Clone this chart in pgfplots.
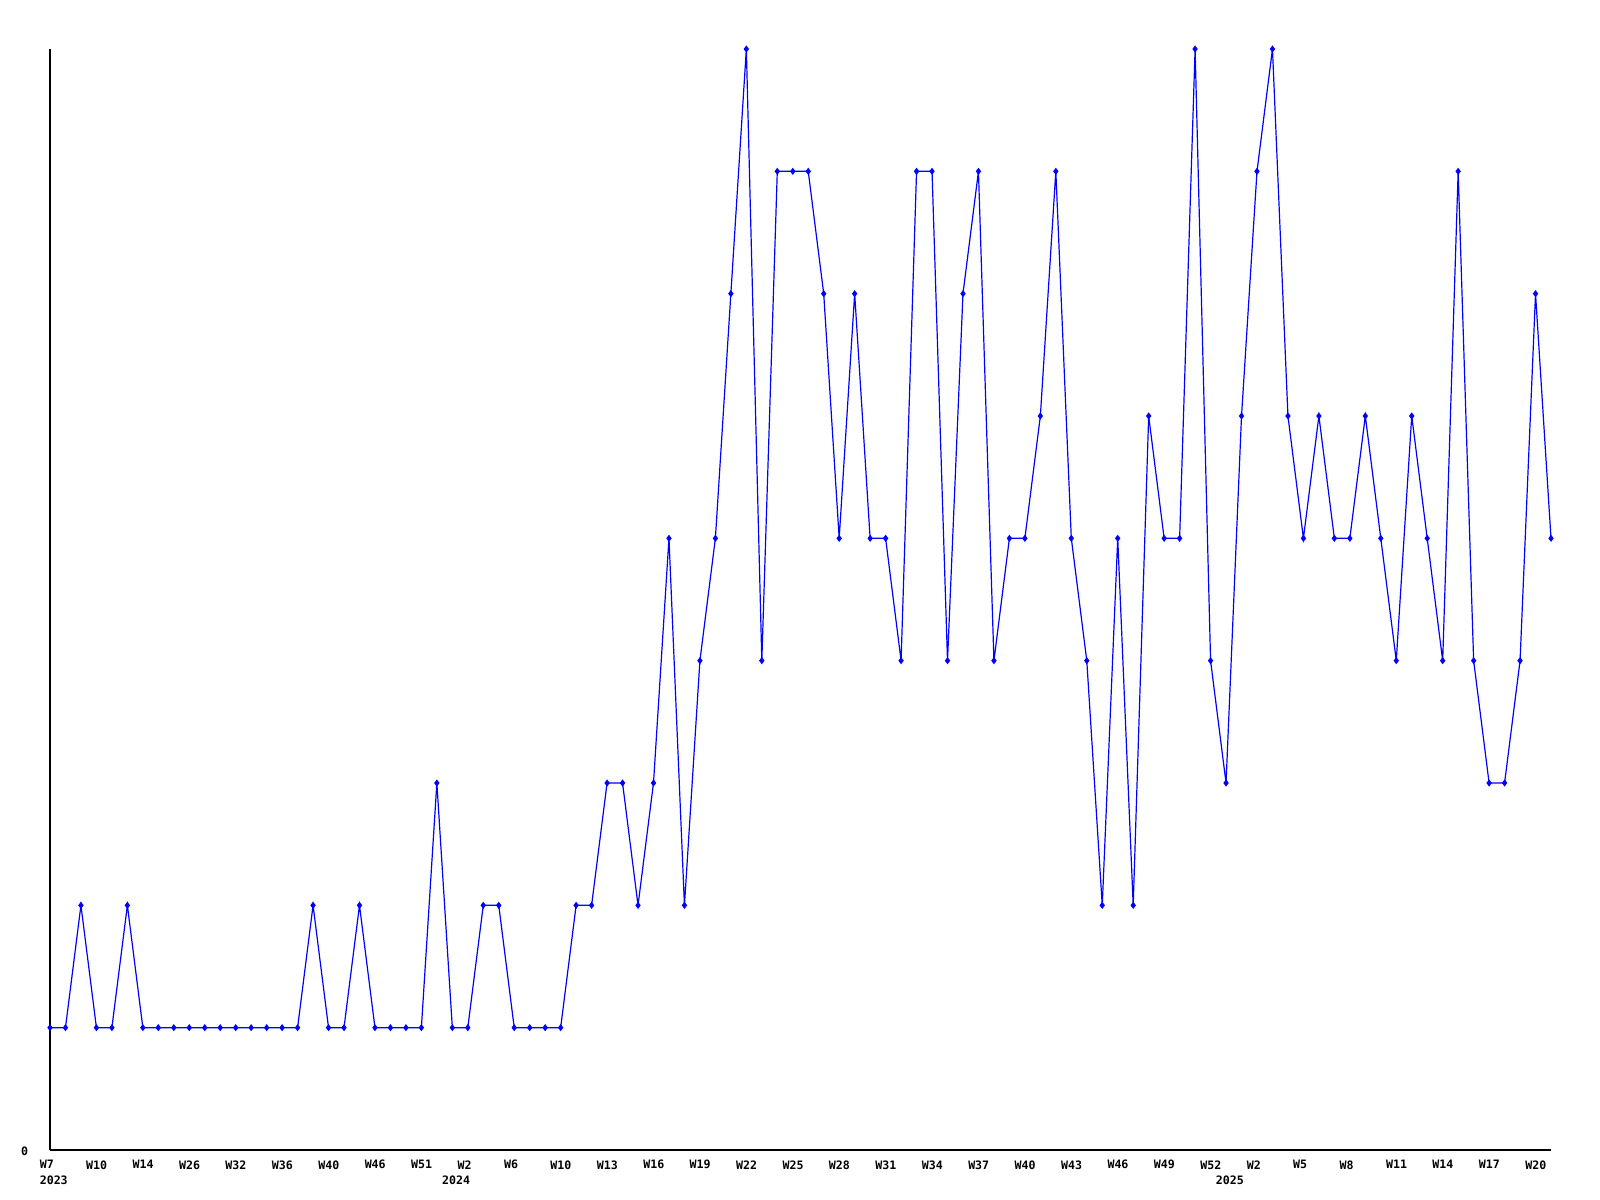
\documentclass[border=0pt]{standalone}
\usepackage{pgfplots}
\pgfplotsset{compat=1.18}
\usepackage{fontspec}
\newfontfamily\labfont{DejaVu Sans Mono}
\newcommand{\lf}{\labfont\bfseries\fontsize{2.9bp}{3.4bp}\selectfont}
\begin{document}
\begin{tikzpicture}
\useasboundingbox (-12.5bp,-12.5bp) rectangle (387.5bp,287.5bp);
\begin{axis}[at={(0,0)}, anchor=south west, scale only axis,
  width=375.25bp, height=275.25bp,
  xmin=0, xmax=97, ymin=0, ymax=9, clip=false,
  axis lines=left, axis line style={-, black, line width=0.28bp},
  major tick length=0pt,
  xtick={0,3,...,96},
  xticklabels={W7,W10,W14,W26,W32,W36,W40,W46,W51,W2,W6,W10,W13,W16,W19,W22,W25,W28,W31,W34,W37,W40,W43,W46,W49,W52,W2,W5,W8,W11,W14,W17,W20},
  ytick={0}, yticklabels={0},
  xticklabel style={anchor=north west, inner sep=0pt, xshift=-2.75bp, yshift=-2.4bp, font=\lf},
  yticklabel style={anchor=east, inner sep=0pt, xshift=-5.3bp, yshift=-0.3bp, font=\lf},
]
\addplot[color={rgb,255:red,0;green,0;blue,255}, line width=0.3bp, mark=diamond*, mark size=0.65bp, mark options={solid}] table[x=i,y=v] {
i v
0 1
1 1
2 2
3 1
4 1
5 2
6 1
7 1
8 1
9 1
10 1
11 1
12 1
13 1
14 1
15 1
16 1
17 2
18 1
19 1
20 2
21 1
22 1
23 1
24 1
25 3
26 1
27 1
28 2
29 2
30 1
31 1
32 1
33 1
34 2
35 2
36 3
37 3
38 2
39 3
40 5
41 2
42 4
43 5
44 7
45 9
46 4
47 8
48 8
49 8
50 7
51 5
52 7
53 5
54 5
55 4
56 8
57 8
58 4
59 7
60 8
61 4
62 5
63 5
64 6
65 8
66 5
67 4
68 2
69 5
70 2
71 6
72 5
73 5
74 9
75 4
76 3
77 6
78 8
79 9
80 6
81 5
82 6
83 5
84 5
85 6
86 5
87 4
88 6
89 5
90 4
91 8
92 4
93 3
94 3
95 4
96 7
97 5
};
\node[anchor=north west, inner sep=0pt, font=\lf, xshift=-2.75bp, yshift=-6.25bp] at (axis cs:0,0) {2023};
\node[anchor=north west, inner sep=0pt, font=\lf, xshift=-2.75bp, yshift=-6.25bp] at (axis cs:26,0) {2024};
\node[anchor=north west, inner sep=0pt, font=\lf, xshift=-2.75bp, yshift=-6.25bp] at (axis cs:76,0) {2025};
\end{axis}
\end{tikzpicture}
\end{document}
